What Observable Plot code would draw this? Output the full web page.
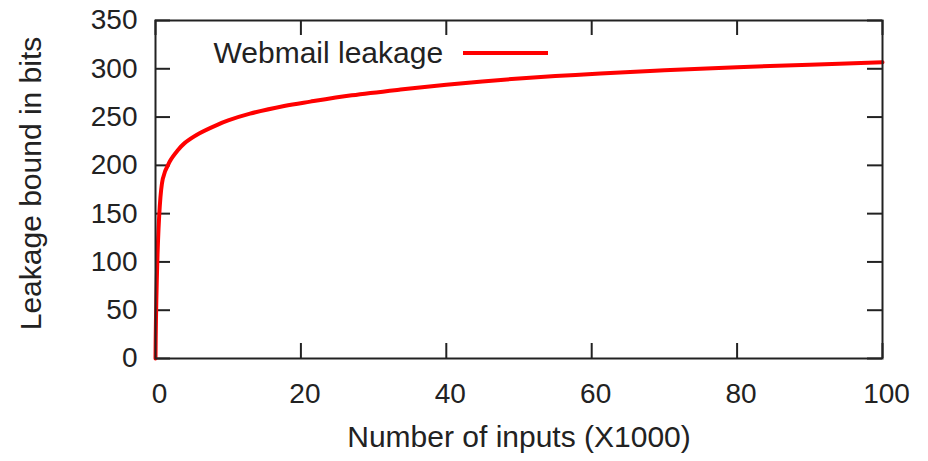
<!DOCTYPE html>
<html>
<head>
<meta charset="utf-8">
<script src="https://cdn.jsdelivr.net/npm/d3@7"></script>
<script src="https://cdn.jsdelivr.net/npm/@observablehq/plot@0.6"></script>
<style>
  html, body { margin: 0; padding: 0; background: #fff; }
  #chart { width: 928px; height: 461px; }
</style>
</head>
<body>
<div id="chart"></div>
<script>
// Data
const inputs = [0, 1, 2, 3, 4, 6, 8.5, 10, 13, 17.7, 21.3, 27, 33.7, 40, 47.5, 55, 61.2, 70, 80, 90, 100];
const leakage = [0, 186, 204.5, 215, 223, 233, 242, 246.5, 253.5, 261.5, 266, 272.5, 278.5, 283.5, 288.5, 292.5, 295, 298.5, 301.6, 304.3, 306.7];
const xTicks = [0, 20, 40, 60, 80, 100];
const yTicks = [0, 50, 100, 150, 200, 250, 300, 350];
const seriesName = "Webmail leakage";
const xLabel = "Number of inputs (X1000)";
const yLabel = "Leakage bound in bits";

const data = inputs.map((x, i) => ({x, y: leakage[i]}));

const W = 928, H = 461;
const mL = 155, mR = 46, mT = 20, mB = 103;
const fw = W - mL - mR, fh = H - mT - mB;
const tick = 15;
const font = "'Liberation Sans', Arial, Helvetica, sans-serif";
const fs = 28, fl = 30;
const ink = "#222";

const plot = Plot.plot({
  width: W, height: H,
  marginLeft: mL, marginRight: mR, marginTop: mT, marginBottom: mB,
  style: {fontFamily: font, fontSize: fs + "px", color: ink, background: "#fff"},
  x: {domain: [0, 100]},
  y: {domain: [0, 350]},
  marks: [
    Plot.axisX({ticks: xTicks, tickSize: 0, tickPadding: 25, dx: 4, label: null, fontSize: fs}),
    Plot.axisY({ticks: yTicks, tickSize: 0, tickPadding: 18, label: null, fontSize: fs}),
    // inward ticks (bottom / top / left / right)
    Plot.tickX(xTicks, {x: d => d, insetTop: fh - tick, stroke: ink, strokeWidth: 2}),
    Plot.tickX(xTicks, {x: d => d, insetBottom: fh - tick, stroke: ink, strokeWidth: 2}),
    Plot.tickY(yTicks, {y: d => d, insetRight: fw - tick, stroke: ink, strokeWidth: 2}),
    Plot.tickY(yTicks, {y: d => d, insetLeft: fw - tick, stroke: ink, strokeWidth: 2}),
    Plot.line(data, {x: "x", y: "y", stroke: "#ff0000", strokeWidth: 4, curve: "catmull-rom"}),
    Plot.frame({stroke: ink, strokeWidth: 2}),
    Plot.text([xLabel], {frameAnchor: "bottom", dy: 79, textAnchor: "middle", lineAnchor: "middle", fontSize: fl, fill: ink}),
    Plot.text([yLabel], {frameAnchor: "left", dx: -124, dy: -6, rotate: -90, textAnchor: "middle", lineAnchor: "middle", fontSize: fl, fill: ink}),
    Plot.text([seriesName], {frameAnchor: "top-left", dx: 58, dy: 33, textAnchor: "start", lineAnchor: "middle", fontSize: fl, fill: ink})
  ]
});

// legend sample line
const svg = d3.select(plot);
svg.append("line")
  .attr("x1", mL + 308).attr("x2", mL + 393)
  .attr("y1", mT + 33).attr("y2", mT + 33)
  .attr("stroke", "#ff0000").attr("stroke-width", 4);

document.getElementById("chart").appendChild(plot);
</script>
</body>
</html>
